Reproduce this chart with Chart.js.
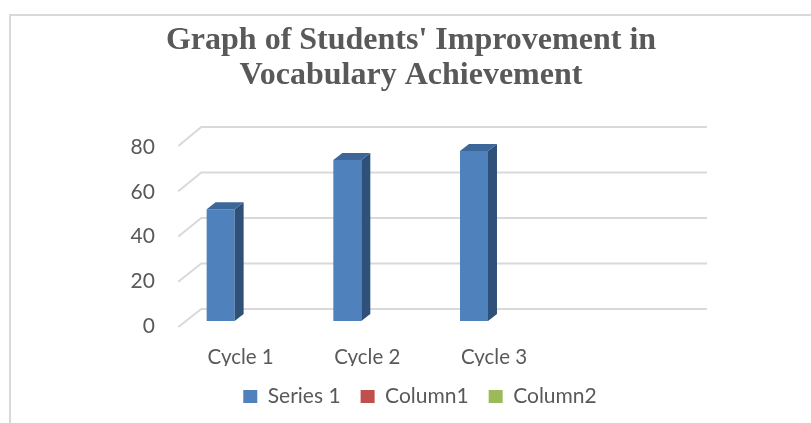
<!DOCTYPE html>
<html>
<head>
<meta charset="utf-8">
<script src="https://cdn.jsdelivr.net/npm/chart.js@4.4.0/dist/chart.umd.min.js"></script>
<style>
  html, body { margin: 0; padding: 0; background: #ffffff; }
  #wrap { width: 811px; height: 423px; position: relative; }
</style>
</head>
<body>
<div id="wrap"><canvas id="c" width="811" height="423"></canvas></div>
<script>
const categories = ['Cycle 1', 'Cycle 2', 'Cycle 3', ''];
const series1 = [50, 72, 76, null];
const column1 = [null, null, null, null];
const column2 = [null, null, null, null];
const yTicks = [0, 20, 40, 60, 80];
const titleLines = ["Graph of Students' Improvement in", "Vocabulary Achievement"];

const TEXT = '#595959';
const GRID = '#d9d9d9';
const TICK_FONT = { family: 'Lato', size: 21 };

const framePlugin = {
  id: 'frame',
  beforeDraw(chart) {
    const ctx = chart.ctx;
    ctx.save();
    ctx.strokeStyle = '#d9d9d9';
    ctx.lineWidth = 2;
    ctx.beginPath();
    ctx.moveTo(10, 430);
    ctx.lineTo(10, 15);
    ctx.lineTo(820, 15);
    ctx.stroke();
    ctx.fillStyle = TEXT;
    ctx.font = 'bold 32px "Liberation Serif", "Times New Roman", serif';
    ctx.textAlign = 'center';
    ctx.textBaseline = 'alphabetic';
    ctx.fillText(titleLines[0], 411, 49);
    ctx.fillText(titleLines[1], 411, 84);
    ctx.restore();
  }
};

const floorPlugin = {
  id: 'floor3d',
  beforeDatasetsDraw(chart) {
    const ctx = chart.ctx;
    const ys = chart.scales.y;
    const area = chart.chartArea;
    ctx.save();
    ctx.strokeStyle = GRID;
    ctx.lineWidth = 2;
    yTicks.forEach(v => {
      const y = ys.getPixelForValue(v);
      const backY = y - 12 + (y - area.bottom) * 0.017;
      const frontY = y + 6 + (y - area.bottom) * 0.011;
      ctx.beginPath();
      ctx.moveTo(area.left - 7, frontY);
      ctx.lineTo(area.left + 16, backY);
      ctx.lineTo(area.right + 15, backY);
      ctx.stroke();
    });
    ctx.restore();
  },
  afterDatasetsDraw(chart) {
    const ctx = chart.ctx;
    const dx = 9, dy = -7;
    const sideColors = ['#2f5179', '#8a3532', '#6e8a3c'];
    const topColors = ['#3d6799', '#9e3f3c', '#7f9c46'];
    chart.data.datasets.forEach((ds, di) => {
      const meta = chart.getDatasetMeta(di);
      meta.data.forEach((bar, i) => {
        if (ds.data[i] == null) return;
        const p = bar.getProps(['x', 'y', 'base', 'width'], true);
        const l = p.x - p.width / 2, r = p.x + p.width / 2;
        ctx.save();
        ctx.fillStyle = sideColors[di];
        ctx.beginPath();
        ctx.moveTo(r, p.y);
        ctx.lineTo(r + dx, p.y + dy);
        ctx.lineTo(r + dx, p.base + dy);
        ctx.lineTo(r, p.base);
        ctx.closePath();
        ctx.fill();
        ctx.fillStyle = topColors[di];
        ctx.beginPath();
        ctx.moveTo(l, p.y);
        ctx.lineTo(l + dx, p.y + dy);
        ctx.lineTo(r + dx, p.y + dy);
        ctx.lineTo(r, p.y);
        ctx.closePath();
        ctx.fill();
        ctx.restore();
      });
    });
  }
};

const PAD_L = 148, PAD_R = 119;
const AREA_LEFT = 185.3;
const Y_LABEL_RIGHT = 155;
const Y_LABEL_WIDEST = 24.4;

new Chart(document.getElementById('c'), {
  type: 'bar',
  data: {
    labels: categories,
    datasets: [
      { label: 'Series 1', data: series1, backgroundColor: '#4f81bd', borderWidth: 0 },
      { label: 'Column1', data: column1, backgroundColor: '#c0504d', borderWidth: 0 },
      { label: 'Column2', data: column2, backgroundColor: '#9bbb59', borderWidth: 0 }
    ]
  },
  options: {
    responsive: false,
    animation: false,
    devicePixelRatio: 1,
    layout: { padding: { left: PAD_L, right: PAD_R, top: 142, bottom: 6 } },
    datasets: { bar: { categoryPercentage: 0.663, barPercentage: 1.0 } },
    scales: {
      x: {
        grid: { display: false, drawTicks: false },
        border: { display: false },
        ticks: {
          color: TEXT,
          font: { family: 'Lato', size: 20.5 },
          padding: 24,
          labelOffset: -8,
          autoSkip: false,
          maxRotation: 0,
          minRotation: 0
        },
        afterFit(s) { s.height = 45; }
      },
      y: {
        min: 0, max: 80,
        afterBuildTicks(s) { s.ticks = yTicks.map(v => ({ value: v })); },
        grid: { display: false, drawTicks: false },
        border: { display: false },
        ticks: {
          color: TEXT,
          font: TICK_FONT,
          mirror: true,
          crossAlign: 'far',
          padding: Y_LABEL_RIGHT - AREA_LEFT - Y_LABEL_WIDEST,
          labelOffset: 5
        },
        afterFit(s) { s.width = AREA_LEFT - PAD_L; }
      }
    },
    plugins: {
      title: { display: false },
      tooltip: { enabled: false },
      legend: {
        position: 'bottom',
        labels: {
          color: TEXT,
          font: { family: 'Lato', size: 21 },
          boxWidth: 14,
          boxHeight: 13,
          padding: 20
        }
      }
    }
  },
  plugins: [framePlugin, floorPlugin]
});
</script>
</body>
</html>
